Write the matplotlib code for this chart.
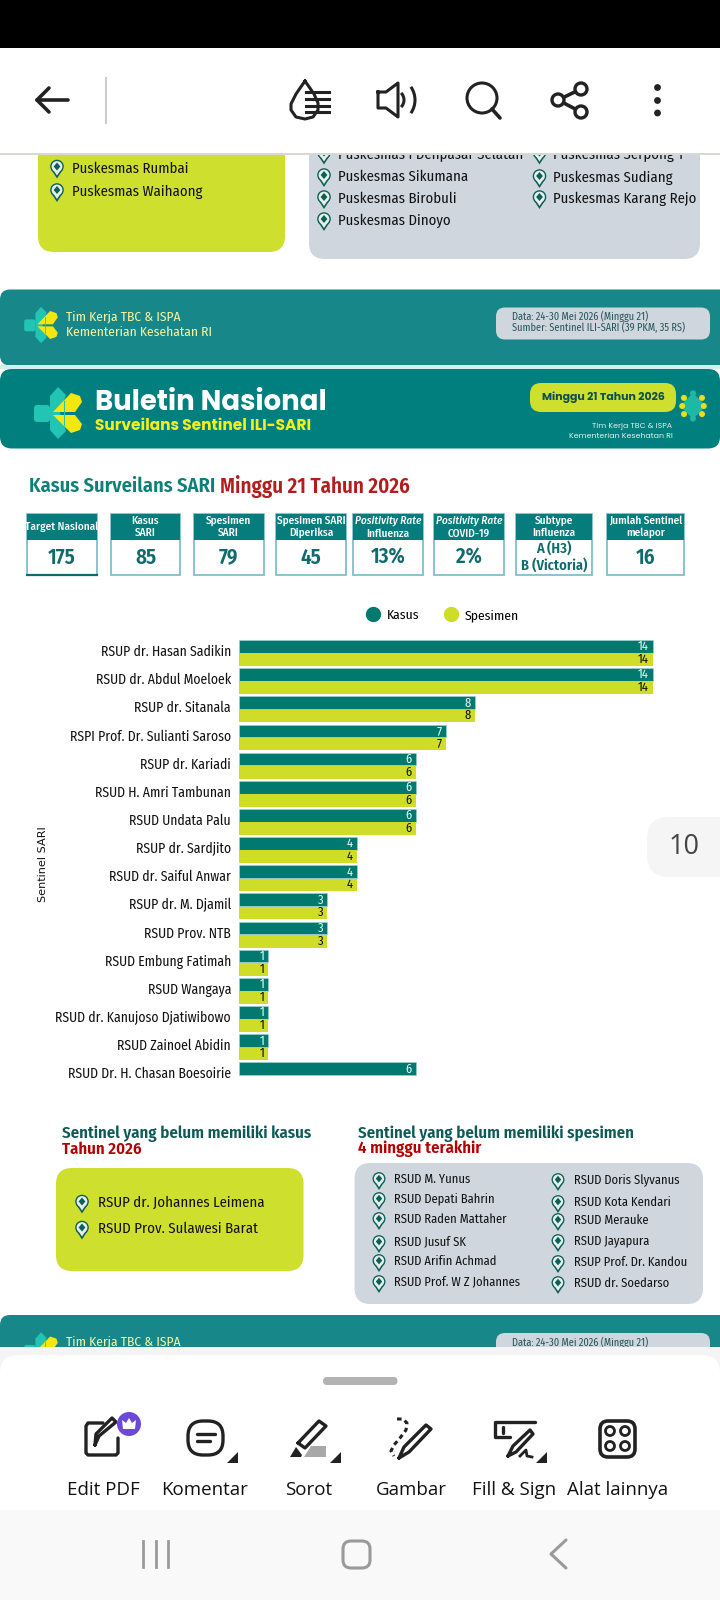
import matplotlib
matplotlib.use("Agg")
import matplotlib.pyplot as plt
from matplotlib.lines import Line2D
from matplotlib.patches import Arc, Circle, FancyBboxPatch, Polygon, Rectangle

# Chart values
sentinels = ["RSUP dr. Hasan Sadikin", "RSUD dr. Abdul Moeloek", "RSUP dr. Sitanala",
             "RSPI Prof. Dr. Sulianti Saroso", "RSUP dr. Kariadi", "RSUD H. Amri Tambunan",
             "RSUD Undata Palu", "RSUP dr. Sardjito", "RSUD dr. Saiful Anwar",
             "RSUP dr. M. Djamil", "RSUD Prov. NTB", "RSUD Embung Fatimah", "RSUD Wangaya",
             "RSUD dr. Kanujoso Djatiwibowo", "RSUD Zainoel Abidin", "RSUD Dr. H. Chasan Boesoirie"]
kasus = [14, 14, 8, 7, 6, 6, 6, 4, 4, 3, 3, 1, 1, 1, 1, 6]
spesimen = [14, 14, 8, 7, 6, 6, 6, 4, 4, 3, 3, 1, 1, 1, 1, 0]

card_titles = ["Target Nasional", "Kasus\nSARI", "Spesimen\nSARI", "Spesimen SARI\nDiperiksa",
               "Positivity Rate\nInfluenza", "Positivity Rate\nCOVID-19", "Subtype\nInfluenza",
               "Jumlah Sentinel\nmelapor"]
card_values = ["175", "85", "79", "45", "13%", "2%", "A (H3)\nB (Victoria)", "16"]
card_left = [27, 111, 194, 276, 353, 434, 516, 607]
card_right = [97, 180, 263.5, 346, 422.5, 504, 592, 684]

no_case = ["RSUP dr. Johannes Leimena", "RSUD Prov. Sulawesi Barat"]
no_spec_1 = ["RSUD M. Yunus", "RSUD Depati Bahrin", "RSUD Raden Mattaher", "RSUD Jusuf SK",
             "RSUD Arifin Achmad", "RSUD Prof. W Z Johannes"]
no_spec_1_y = [1179, 1199, 1219, 1242, 1261, 1282]
no_spec_2 = ["RSUD Doris Slyvanus", "RSUD Kota Kendari", "RSUD Merauke", "RSUD Jayapura",
             "RSUP Prof. Dr. Kandou", "RSUD dr. Soedarso"]
no_spec_2_y = [1180, 1202, 1220, 1241, 1262, 1283]

tool_labels = ["Edit PDF", "Komentar", "Sorot", "Gambar", "Fill & Sign", "Alat lainnya"]
tool_x = [103, 205, 309, 411, 514, 618]

TEAL = "#02796f"
LIME = "#cfdd28"
NARROW = ["Fira Sans Condensed", "Lato"]
POP = ["Poppins", "Open Sans"]

fig = plt.figure(figsize=(7.2, 16), dpi=100)
bg = fig.add_axes([0, 0, 1, 1], zorder=1)
bg.set_xlim(0, 720)
bg.set_ylim(1600, 0)
bg.axis("off")


def txt(x, y, s, px=13, color="#111111", weight="normal", ha="left", family=NARROW, style="normal", z=5, ax=None):
    return (ax or bg).text(x, y, s, fontsize=px * 0.72, color=color, fontweight=weight, ha=ha, va="center",
                           family=family, fontstyle=style, zorder=z, linespacing=1.15)


def box(x0, y0, x1, y1, r, color, z=2, ax=None, **kw):
    p = FancyBboxPatch((x0 + r, y0 + r), x1 - x0 - 2 * r, y1 - y0 - 2 * r,
                       boxstyle=f"round,pad={r},rounding_size={r}", fc=color, ec="none", zorder=z, **kw)
    (ax or bg).add_patch(p)
    return p


def pin(x, y, s=1.0):
    c = "#0c5f5a"
    bg.add_patch(Polygon([(x - 6.2 * s, y + 1 * s), (x, y + 10.5 * s), (x + 6.2 * s, y + 1 * s)], fc=c, ec="none", zorder=4))
    bg.add_patch(Circle((x, y - 1.5 * s), 6.8 * s, fc=c, ec="none", zorder=4))
    bg.add_patch(Circle((x, y - 1.5 * s), 5.4 * s, fc="#e8efe8", ec="none", zorder=4))
    bg.add_patch(Polygon([(x - 4 * s, y + 1.5 * s), (x, y + 7.5 * s), (x + 4 * s, y + 1.5 * s)], fc="#e8efe8", ec="none", zorder=4))
    bg.add_patch(Polygon([(x, y - 5.5 * s), (x + 3.4 * s, y - 1.5 * s), (x, y + 2.5 * s), (x - 3.4 * s, y - 1.5 * s)], fc=c, ec="none", zorder=4))


def logo(x, y, s=1.0, z=4):
    # x,y is the centre of the mark, s=1 means 50 px tall
    t = "#22c4b4"
    k = "#f4e70f"
    bg.add_patch(FancyBboxPatch((x - 24 * s, y - 8 * s), 16 * s, 17 * s, boxstyle=f"round,pad=0,rounding_size={3 * s}", fc=t, ec="none", zorder=z))
    bg.add_patch(Polygon([(x - 8 * s, y - 17 * s), (x, y - 26 * s), (x + 8 * s, y - 18 * s), (x + 2 * s, y), (x + 8 * s, y + 18 * s),
                          (x, y + 26 * s), (x - 8 * s, y + 17 * s)], fc=t, ec="none", zorder=z))
    bg.add_patch(Polygon([(x - 5 * s, y - 1 * s), (x + 13 * s, y - 20 * s), (x + 22 * s, y - 17 * s), (x + 24 * s, y - 11 * s), (x + 17 * s, y - 1 * s)], fc=k, ec="none", zorder=z + 1))
    bg.add_patch(Polygon([(x - 5 * s, y + 2 * s), (x + 17 * s, y + 2 * s), (x + 24 * s, y + 11 * s), (x + 22 * s, y + 17 * s), (x + 13 * s, y + 20 * s)], fc=k, ec="none", zorder=z + 1))
    bg.plot([x + 6 * s, x + 6 * s], [y - 12 * s, y + 12 * s], color=t, lw=0.8 * s, zorder=z + 2)


def flower(x, y):
    bg.add_patch(Polygon([(x - 13, y), (x, y - 13), (x + 13, y), (x, y + 13)], fc="#1fb8a6", ec="none", zorder=4))
    for dx, dy in [(-10, -9), (10, -9), (-10, 9), (10, 9), (-12, 0), (12, 0), (0, -14), (0, 14)]:
        col = "#e6df20" if abs(dx) == 10 or dy == 0 else "#1fb8a6"
        bg.add_patch(Circle((x + dx * 0.9, y + dy * 0.9), 3, fc=col, ec="none", zorder=4))


def footer_band(top):
    box(0, top, 730, top + 76, 10, "#188789")
    logo(41, top + 35.5, 0.7)
    txt(66, top + 27, "Tim Kerja TBC & ISPA", 13.5, "#f7f4a0", family=NARROW)
    txt(66, top + 43, "Kementerian Kesehatan RI", 13.5, "#f7f4a0", family=NARROW)
    box(496, top + 18, 710, top + 50, 9, "#cfd6de", z=3)
    txt(512, top + 27.5, "Data: 24-30 Mei 2026 (Minggu 21)", 10.3, "#24565a", family=NARROW)
    txt(512, top + 38.5, "Sumber: Sentinel ILI-SARI (39 PKM, 35 RS)", 10.3, "#24565a", family=NARROW)


# page above the fold
box(38, 120, 285, 252, 16, "#cfdf2d")
box(309, 120, 700, 259, 16, "#cfd6de")
for y, s in zip([168, 191.5], ["Puskesmas Rumbai", "Puskesmas Waihaong"]):
    pin(57, y)
    txt(72.5, y + 0.5, s, 14.7)
for y, s in zip([154, 176.5, 198.5, 220.5], ["Puskesmas I Denpasar Selatan", "Puskesmas Sikumana", "Puskesmas Birobuli", "Puskesmas Dinoyo"]):
    pin(324, y)
    txt(338, y + 0.5, s, 14.7)
for y, s in zip([154, 177.5, 198.5], ["Puskesmas Serpong 1", "Puskesmas Sudiang", "Puskesmas Karang Rejo"]):
    pin(539.5, y)
    txt(553, y + 0.5, s, 14.7)

footer_band(289.5)
bg.add_patch(Rectangle((0, 365), 720, 4, fc="#d8eeec", ec="none", zorder=2))

# header band
box(0, 369, 720, 448.5, 12, "#007f7f")
logo(58, 413, 1.0)
txt(95, 404, "Buletin Nasional", 27.5, "white", "bold", family=POP)
txt(95, 426, "Surveilans Sentinel ILI-SARI", 15.4, "#f4ef1c", "bold", family=POP)
box(530, 383, 676, 412, 11, "#cfdf2d", z=3)
txt(603, 397.5, "Minggu 21 Tahun 2026", 11, "#0b4f4e", "bold", ha="center", family=POP)
flower(693, 406)
txt(672.5, 427, "Tim Kerja TBC & ISPA", 7.8, "#e7f3f2", ha="right", family=POP)
txt(672.5, 436.7, "Kementerian Kesehatan RI", 7.8, "#e7f3f2", ha="right", family=POP)

# title
txt(29, 486, "Kasus Surveilans SARI", 20.4, "#0f7f79", "semibold")
txt(220, 486, "Minggu 21 Tahun 2026", 21, "#b21e1e", "semibold")

# cards
for title, val, x0, x1 in zip(card_titles, card_values, card_left, card_right):
    bg.add_patch(Rectangle((x0, 514), x1 - x0, 61, fc="white", ec="#7fbfcb", lw=1.3, zorder=2))
    bg.add_patch(Rectangle((x0, 514), x1 - x0, 26, fc="#077c7d", ec="none", zorder=3))
    italic = title.startswith("Positivity")
    lines = title.split("\n")
    if italic:
        txt((x0 + x1) / 2, 521, lines[0], 11.2, "white", "medium", ha="center", style="italic", z=4)
        txt((x0 + x1) / 2, 533.5, lines[1], 11.2, "white", "medium", ha="center", z=4)
    else:
        txt((x0 + x1) / 2, 526.5, title, 11.2, "white", "medium", ha="center", z=4)
    if "\n" in val:
        txt((x0 + x1) / 2, 557, val, 14.5, "#0f6b6e", "semibold", ha="center", z=4)
    else:
        txt((x0 + x1) / 2, 557.5, val, 21, "#0f6b6e", "semibold", ha="center", z=4)
bg.plot([27, 97], [574.8, 574.8], color="#0f6b70", lw=1.6, zorder=4)

# bar chart
px_unit = 29.55
row = 28.16
ax_left, ax_right = 238.8, 680.0
ax_top, ax_bot = 653 - 0.5 * row, 653 + 15.5 * row
ax = fig.add_axes([ax_left / 720, 1 - ax_bot / 1600, (ax_right - ax_left) / 720, (ax_bot - ax_top) / 1600], zorder=2)
ax.patch.set_alpha(0)
ys = list(range(len(sentinels)))
bar_h = 0.45
b1 = ax.barh([y - bar_h / 2 - 0.01 for y in ys], kasus, height=bar_h, color=TEAL, edgecolor="#9fd6d0", linewidth=0.4)
b2 = ax.barh([y + bar_h / 2 + 0.01 for y in ys], spesimen, height=bar_h, color=LIME, edgecolor="none")
ax.set_xlim(0, (ax_right - ax_left) / px_unit)
ax.set_ylim(15.5, -0.5)
# labels sit a little above the middle of each pair of bars
ax.set_yticks([y - 0.09 for y in ys])
ax.set_yticklabels(sentinels, fontsize=13.7 * 0.72, family=NARROW, color="#111111")
ax.tick_params(axis="y", length=0, pad=5.6)
ax.set_xticks([])
for sp in ax.spines.values():
    sp.set_visible(False)
ax.set_ylabel("Sentinel SARI", fontsize=11.2 * 0.72, family="DejaVu Sans", color="#111111")
ax.yaxis.set_label_coords((48.5 - ax_left) / (ax_right - ax_left), 0.5)
for y, k, s in zip(ys, kasus, spesimen):
    ax.annotate(str(k), (k, y - bar_h / 2), xytext=(-3, 0), textcoords="offset points", ha="right", va="center",
                fontsize=9, family=NARROW, color="#e6f5f0")
    if s > 0:
        ax.annotate(str(s), (s, y + bar_h / 2), xytext=(-3, 0), textcoords="offset points", ha="right", va="center",
                    fontsize=9, family=NARROW, color="#111111")
handles = [Line2D([], [], ls="", marker="o", ms=10, color=TEAL, label="Kasus"),
           Line2D([], [], ls="", marker="o", ms=10, color=LIME, label="Spesimen")]
fig.legend(handles=handles, ncol=2, frameon=False, loc="center", bbox_to_anchor=(443 / 720, 1 - 615.5 / 1600),
           prop={"family": NARROW, "size": 9.8}, handlelength=1.0, handletextpad=0.52, columnspacing=1.8, borderpad=0)

# page number pill
box(647, 817, 760, 877, 22, "#f5f5f5", z=2)
txt(684, 847, "10", 27, "#444444", ha="center", family="Open Sans")

# lists at the bottom
txt(62.5, 1134, "Sentinel yang belum memiliki kasus", 16.8, "#0f5a57", "semibold")
txt(62.5, 1149, "Tahun 2026", 16.8, "#b30000", "semibold")
txt(358.5, 1134, "Sentinel yang belum memiliki spesimen", 16.8, "#0f5a57", "semibold")
txt(358.5, 1149, "4 minggu terakhir", 16.8, "#b30000", "semibold")
box(56, 1168, 303.5, 1271, 16, "#cfdf2d")
box(354.5, 1163, 703, 1304, 16, "#cfd6de")
for y, s in zip([1203, 1229], no_case):
    pin(82, y)
    txt(98, y, s, 14.8)
for y, s in zip(no_spec_1_y, no_spec_1):
    pin(379, y + 1, 0.95)
    txt(394, y, s, 12.5)
for y, s in zip(no_spec_2_y, no_spec_2):
    pin(558, y + 1, 0.95)
    txt(573.5, y, s, 12.5)

footer_band(1315)

# top toolbar of the viewer
bg.add_patch(Rectangle((0, 0), 720, 48, fc="black", ec="none", zorder=10))
bg.add_patch(Rectangle((0, 48), 720, 105, fc="white", ec="none", zorder=10))
bg.add_patch(Rectangle((0, 153), 720, 2, fc="#d8d8d4", ec="none", zorder=10))
ink = "#222222"
kw = dict(color=ink, lw=2.6, zorder=11, solid_capstyle="round", solid_joinstyle="round")
bg.plot([37, 68], [100, 100], **kw)
bg.plot([49, 37, 49], [88, 100, 112], **kw)
bg.plot([106, 106], [78, 123], color="#cccccc", lw=1.5, zorder=11)
# reading mode drop
bg.plot([305, 296, 291, 291, 296, 305, 313, 318, 318, 314, 305], [81, 94, 104, 110, 117, 119, 117, 110, 103, 94, 81], color=ink, lw=2.2, zorder=11)
for yy in [92, 99, 106, 112]:
    bg.plot([306, 329], [yy, yy], color=ink, lw=2.2, zorder=11)
# speaker
bg.plot([378, 386, 398, 398, 386, 378, 378], [92, 92, 83, 117, 108, 108, 92], color=ink, lw=2.2, zorder=11)
bg.add_patch(Arc((394, 100), 20, 20, theta1=-45, theta2=45, ec=ink, lw=2.2, zorder=11))
bg.add_patch(Arc((392, 100), 46, 46, theta1=-35, theta2=35, ec=ink, lw=2.2, zorder=11))
# search
bg.add_patch(Circle((482, 98), 15, fc="none", ec=ink, lw=2.2, zorder=11))
bg.plot([492, 500], [109, 118], **kw)
# share
bg.plot([581, 558, 581], [89, 100, 112], **kw)
for cx, cy in [(581, 89), (558, 100), (581, 112)]:
    bg.add_patch(Circle((cx, cy), 6, fc="white", ec=ink, lw=2.4, zorder=12))
for cy in [87.5, 100.5, 113]:
    bg.add_patch(Circle((657.5, cy), 3.4, fc=ink, ec="none", zorder=11))

# bottom tool sheet
bg.add_patch(Rectangle((0, 1347), 720, 253, fc="#f4f4f4", ec="none", zorder=10))
box(0, 1355, 720, 1560, 18, "white", z=10.5)
box(323, 1377, 397.5, 1385, 4, "#b3b3b3", z=11)
bg.add_patch(Rectangle((0, 1510), 720, 90, fc="#f9f9f9", ec="none", zorder=11))
for s, x in zip(tool_labels, tool_x):
    txt(x, 1490, s, 18.8, "#111111", ha="center", family="Open Sans", z=12)

kw = dict(color=ink, lw=2.4, zorder=12, solid_capstyle="round", solid_joinstyle="round")
# edit pdf
bg.plot([103, 88, 86, 86, 88, 116, 118, 118], [1423, 1423, 1426, 1453, 1455, 1455, 1453, 1438], **kw)
bg.plot([95, 99, 116, 112, 96, 95], [1445, 1436, 1422, 1418, 1434, 1445], **kw)
bg.add_patch(Circle((129, 1424), 12, fc="#6d49d8", ec="none", zorder=12))
bg.add_patch(Polygon([(123, 1429), (122, 1420), (126, 1423), (129, 1418), (132, 1423), (136, 1420), (135, 1429)], fc="white", ec="none", zorder=13))
# komentar
bg.add_patch(FancyBboxPatch((188, 1421), 35, 34, boxstyle="round,pad=0,rounding_size=15", fc="white", ec=ink, lw=2.4, zorder=12))
bg.plot([197, 215], [1434, 1434], **kw)
bg.plot([197, 210], [1441, 1441], **kw)
# sorot
bg.plot([298, 319, 326, 305, 298], [1443, 1421, 1426, 1448, 1443], **kw)
bg.add_patch(Polygon([(290, 1457), (296, 1447), (302, 1455), (301, 1457)], fc=ink, ec="none", zorder=12))
bg.add_patch(Polygon([(304, 1457), (311, 1446), (326, 1446), (326, 1457)], fc="#a8a8a8", ec="none", zorder=12))
# gambar
bg.plot([397, 403, 407, 406, 400, 394, 391, 394], [1419, 1419, 1423, 1430, 1438, 1445, 1451, 1456], color=ink, lw=2.2, ls=(0, (1.5, 1.2)), zorder=12)
bg.plot([399, 404, 426, 431, 409, 399], [1458, 1447, 1425, 1429, 1452, 1458], **kw)
# fill & sign
bg.plot([535, 495, 495, 510], [1422, 1422, 1437, 1437], **kw)
bg.plot([503, 503], [1427, 1433], **kw)
bg.plot([508, 513, 530, 533, 516, 508], [1456, 1446, 1430, 1434, 1452, 1456], **kw)
bg.plot([520, 526, 527, 532], [1456, 1450, 1456, 1457], color=ink, lw=2, zorder=12)
# triangles under the tools
for xr in [238, 341, 547]:
    bg.add_patch(Polygon([(xr - 11, 1463), (xr, 1452), (xr, 1463)], fc=ink, ec="none", zorder=12))
# alat lainnya
bg.add_patch(FancyBboxPatch((600, 1421), 35, 36, boxstyle="round,pad=0,rounding_size=8", fc="white", ec=ink, lw=2.6, zorder=12))
for cx in [610, 625]:
    for cy in [1431, 1446]:
        bg.add_patch(Circle((cx, cy), 4.5, fc="white", ec=ink, lw=2, zorder=13))

# android nav bar
nav = "#9a9a9a"
for xb in [143, 155.5, 168]:
    bg.plot([xb, xb], [1541, 1567], color=nav, lw=2, zorder=12)
bg.add_patch(FancyBboxPatch((343, 1541), 27, 27, boxstyle="round,pad=0,rounding_size=8", fc="none", ec=nav, lw=2.2, zorder=12))
bg.plot([566, 551, 566], [1540, 1554, 1568], color=nav, lw=2.2, zorder=12, solid_capstyle="round")

fig.savefig("out.png", dpi=100)
